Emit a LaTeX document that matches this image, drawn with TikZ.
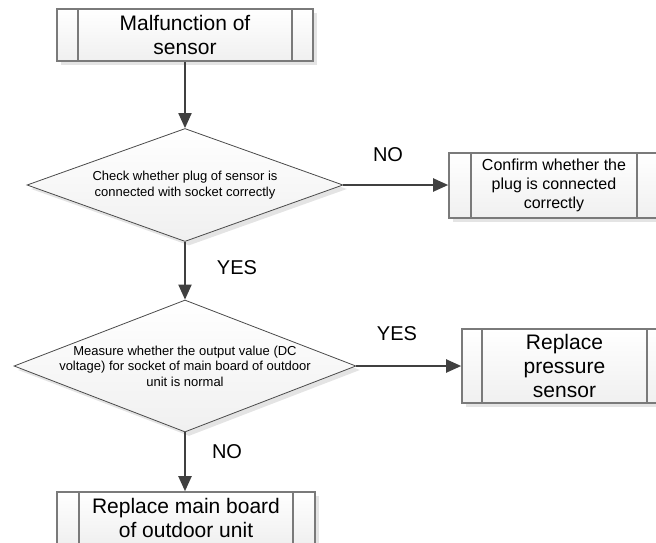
\documentclass[tikz,border=0pt]{standalone}
\usepackage{fontspec}
\setmainfont{Liberation Sans}
\usetikzlibrary{shapes.geometric,shadows,arrows.meta}
\definecolor{boxline}{HTML}{7A7A7A}
\definecolor{diamline}{HTML}{4A4A4A}
\definecolor{arrowc}{HTML}{404040}
\definecolor{shadecol}{HTML}{E4E4E4}
\newcommand\bigtxt{\fontsize{21}{24}\selectfont}
\newcommand\procbars[2]{%
  \draw[barline] ([xshift=#2]#1.north west) -- ([xshift=#2]#1.south west);
  \draw[barline] ([xshift=-#2]#1.north east) -- ([xshift=-#2]#1.south east);}
\begin{document}
\begin{tikzpicture}[x=1pt,y=-1pt,
  proc/.style={rectangle, draw=boxline, line width=1.6pt, top color=white, bottom color=black!6,
    inner sep=0pt, align=center,
    drop shadow={shadow xshift=4pt, shadow yshift=-4pt, fill=shadecol, opacity=1}},
  barline/.style={draw=boxline, line width=1.6pt},
  decision/.style={diamond, draw=diamline, line width=0.8pt, top color=white, bottom color=black!6,
    inner sep=0pt,
    drop shadow={shadow xshift=4pt, shadow yshift=-4pt, fill=shadecol, opacity=1}},
  dtext/.style={align=center, font=\fontsize{13}{15.5}\selectfont},
  flow/.style={draw=arrowc, line width=2pt, -{Triangle[length=15pt,width=13pt]}},
  lab/.style={font=\fontsize{20}{24}\selectfont},
]
\useasboundingbox (0,0) rectangle (656,542);
\clip (0,0) rectangle (656,542);

\node[proc, minimum width=256pt, minimum height=52pt, font=\bigtxt] (start) at (185,35) {Malfunction of\\sensor};
\procbars{start}{22pt}

\node[decision, minimum width=316pt, minimum height=113pt,
  label={[dtext]center:Check whether plug of sensor is\\connected with socket correctly}] (d1) at (185,185) {};

\node[proc, minimum width=210pt, minimum height=65pt, font=\fontsize{16}{19}\selectfont] (confirm) at (554,185.5) {Confirm whether the\\plug is connected\\correctly};
\procbars{confirm}{23pt}

\node[decision, minimum width=342pt, minimum height=132pt,
  label={[dtext]center:Measure whether the output value (DC\\voltage) for socket of main board of outdoor\\unit is normal}] (d2) at (185,366) {};

\node[proc, minimum width=205pt, minimum height=74pt, font=\bigtxt] (press) at (564.5,366) {Replace\\pressure\\sensor};
\procbars{press}{21pt}

\node[proc, minimum width=258pt, minimum height=52pt, font=\bigtxt] (board) at (186,518) {Replace main board\\of outdoor unit};
\procbars{board}{23pt}

\draw[flow] (start.south) -- (d1.north);
\draw[flow] (d1.east) -- (d1.east -| confirm.west);
\draw[flow] (d1.south) -- (d2.north);
\draw[flow] (d2.east) -- (d2.east -| press.west);
\draw[flow] (d2.south) -- (d2.south |- board.north);

\node[lab] (no1) at (388,155) {NO};
\node[lab] (yes1) at (237,268) {YES};
\node[lab] (yes2) at (397,334) {YES};
\node[lab] (no2) at (227,452) {NO};
\end{tikzpicture}
\end{document}
